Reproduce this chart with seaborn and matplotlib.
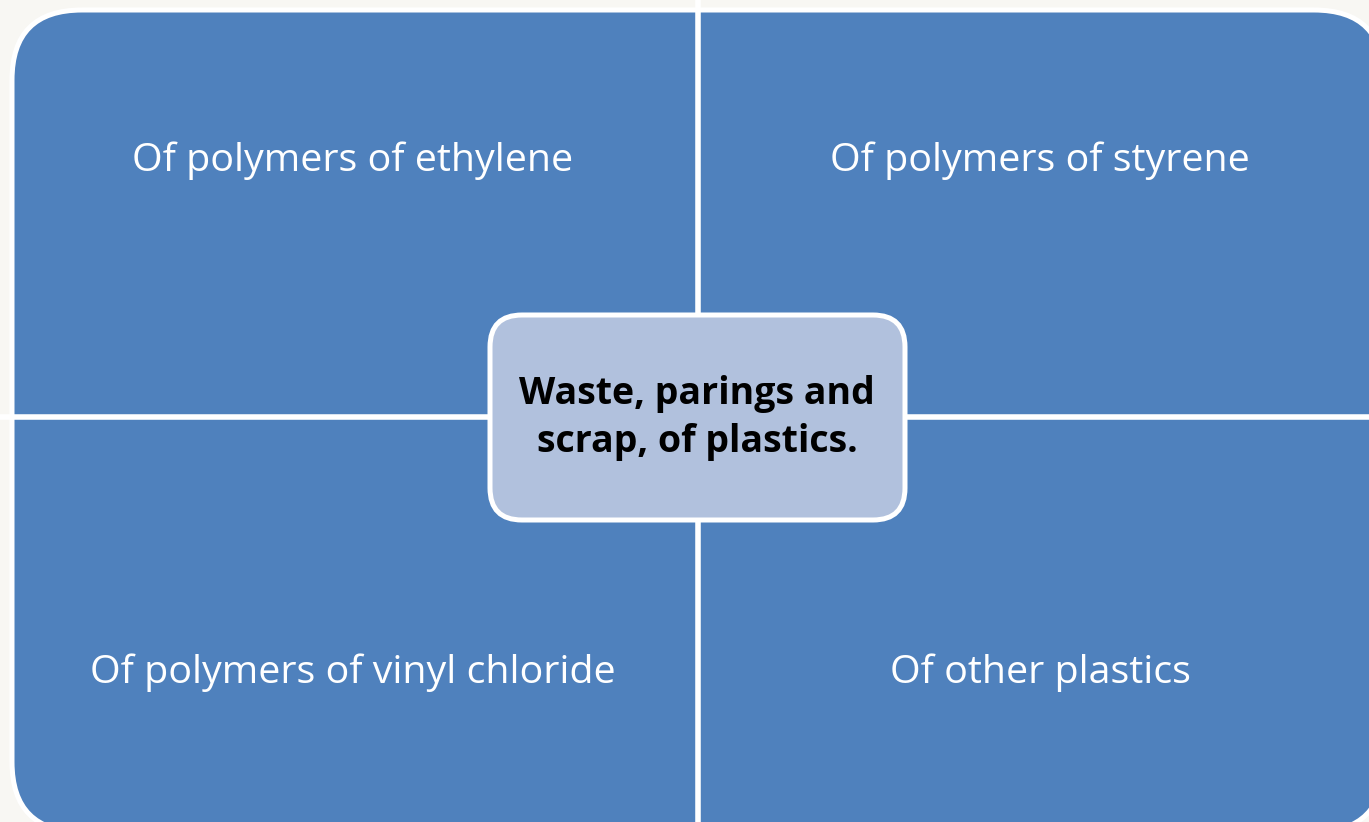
import matplotlib
matplotlib.use("Agg")
import matplotlib.pyplot as plt
from matplotlib.patches import FancyBboxPatch
import seaborn as sns

# quadrant labels (top-left, top-right, bottom-left, bottom-right)
labels = ["Of polymers of ethylene", "Of polymers of styrene",
          "Of polymers of vinyl chloride", "Of other plastics"]
label_x = [353, 1040, 353, 1040]
label_y = [161, 161, 673, 673]
center_text = "Waste, parings and\nscrap, of plastics."

BLUE = "#4F81BD"
LIGHT = "#B1C1DD"
BG = "#F8F7F3"

sns.set_style("white")
plt.rcParams["font.family"] = ["Open Sans", "DejaVu Sans"]

fig = plt.figure(figsize=(13.69, 8.22), dpi=100, facecolor=BG)
ax = fig.add_axes([0, 0, 1, 1])
ax.set_xlim(0, 1369)
ax.set_ylim(822, 0)
ax.axis("off")
ax.set_facecolor(BG)

# outer block with rounded corners (runs off the right/bottom edge)
outer = FancyBboxPatch((12, 10), 1372, 822, boxstyle="round,pad=0,rounding_size=70",
                       facecolor=BLUE, edgecolor="white", linewidth=3.6)
ax.add_patch(outer)

# white dividers between quadrants
ax.plot([697.5, 697.5], [0, 830], color="white", lw=4, solid_capstyle="butt")
ax.plot([0, 1380], [416.5, 416.5], color="white", lw=4, solid_capstyle="butt")

for t, x, y in zip(labels, label_x, label_y):
    ax.text(x, y, t, color="white", fontsize=28.4, ha="center", va="center")

center = FancyBboxPatch((490, 315), 415, 205, boxstyle="round,pad=0,rounding_size=32",
                        facecolor=LIGHT, edgecolor="white", linewidth=3.6, zorder=3)
ax.add_patch(center)
ax.text(697, 418, center_text, color="black", fontsize=27, fontweight="bold",
        ha="center", va="center", linespacing=1.32, zorder=4)

fig.savefig("out.png", dpi=100, facecolor=BG)
